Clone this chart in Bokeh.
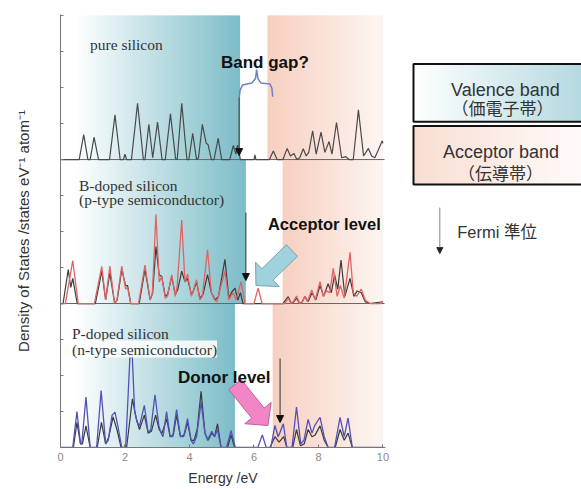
import numpy as np
from bokeh.plotting import figure
from bokeh.models import Range1d, FixedTicker, Arrow, NormalHead, Label
from bokeh.layouts import row
from bokeh.embed import file_html
from bokeh.resources import INLINE

# ---------------- data (energy eV, DOS in tick units) ----------------
pure_si = [(0.0, 0), (0.58, 0), (0.72, 0.69), (0.85, 0), (0.92, 0), (1.04, 0.62), (1.18, 0),
           (1.52, 0), (1.69, 1.24), (1.85, 0), (1.95, 0), (2.0, 0.15), (2.05, 0), (2.2, 0),
           (2.39, 1.56), (2.57, 0), (2.62, 0), (2.74, 0.98), (2.86, 0.05), (3.01, 1.04), (3.15, 0),
           (3.25, 0), (3.41, 1.27), (3.57, 0.02), (3.62, 0), (3.76, 1.56), (3.92, 0), (3.98, 0),
           (4.10, 0.73), (4.22, 0), (4.28, 0.05), (4.40, 0.98), (4.52, 0.45), (4.58, 0.41),
           (4.68, 0), (4.76, 0), (4.89, 0.59), (5.0, 0), (5.25, 0), (5.36, 0.39), (5.44, 0.15),
           (5.49, 0.4), (5.58, 0), (6.0, 0), (6.03, 0.13), (6.06, 0), (6.48, 0), (6.60, 0.24),
           (6.72, 0), (6.9, 0), (7.03, 0.31), (7.13, 0.1), (7.24, 0.17), (7.33, 0), (7.42, 0.05),
           (7.53, 0.30), (7.62, 0.1), (7.70, 0.2), (7.82, 0.80), (7.93, 0.15), (8.08, 0.76),
           (8.2, 0.2), (8.33, 0.5), (8.42, 0.15), (8.56, 1.03), (8.72, 0.05), (8.85, 0.08),
           (8.95, 0), (9.08, 0), (9.24, 1.38), (9.4, 0.1), (9.55, 0.31), (9.65, 0.1), (9.75, 0.05),
           (9.85, 0.25), (9.98, 0.52), (10.0, 0.45)]

b_host = [(0.0, 0), (0.08, 0), (0.24, 0.94), (0.32, 0.45), (0.38, 0.7), (0.52, 0), (1.08, 0),
          (1.28, 0.9), (1.40, 0.1), (1.53, 0.85), (1.68, 0), (1.76, 0.1), (1.90, 0.95), (2.02, 0.5),
          (2.08, 0.5), (2.18, 0), (2.44, 0), (2.62, 0.95), (2.78, 0.1), (2.86, 0.3), (2.96, 1.58),
          (3.06, 0.8), (3.14, 0.75), (3.25, 0.2), (3.32, 0.25), (3.45, 0.75), (3.56, 0.25),
          (3.64, 0.4), (3.76, 0.9), (3.86, 0.6), (3.94, 0.7), (4.06, 0.25), (4.12, 0.35),
          (4.22, 0.6), (4.32, 0.15), (4.42, 0.25), (4.56, 0.8), (4.68, 0.3), (4.8, 0.1),
          (4.9, 0.2), (5.10, 1.23), (5.22, 0.15), (5.30, 0.3), (5.41, 0.43), (5.5, 0.1),
          (5.58, 0.3), (5.66, 0), (6.9, 0), (7.06, 0.19), (7.16, 0), (7.24, 0.05), (7.32, 0.15),
          (7.42, 0), (7.5, 0.05), (7.58, 0.2), (7.68, 0.05), (7.8, 0.3), (7.92, 0.1), (8.05, 0.5),
          (8.16, 0.2), (8.3, 0.55), (8.4, 0.3), (8.5, 0.8), (8.6, 0.4), (8.70, 1.21), (8.82, 0.2),
          (8.98, 0.7), (9.1, 0.2), (9.2, 0.35), (9.33, 0.3), (9.45, 0.05), (9.6, 0), (10.0, 0.05)]

b_doped = [(0.0, 0), (0.15, 0), (0.38, 1.19), (0.55, 0), (1.05, 0), (1.28, 1.03), (1.40, 0.1),
           (1.53, 1.04), (1.68, 0), (1.75, 0.1), (1.90, 1.04), (2.02, 0.4), (2.08, 0.45), (2.18, 0),
           (2.42, 0), (2.62, 1.07), (2.78, 0.1), (2.85, 0.3), (2.96, 2.48), (3.06, 0.6), (3.14, 0.75),
           (3.25, 0.15), (3.32, 0.2), (3.45, 0.8), (3.56, 0.2), (3.62, 0.5), (3.76, 2.32),
           (3.86, 0.6), (3.94, 0.82), (4.06, 0.2), (4.10, 0.3), (4.22, 0.66), (4.32, 0.1),
           (4.40, 0.2), (4.56, 1.49), (4.68, 0.3), (4.78, 0.1), (4.85, 0.05), (4.98, 0.5),
           (5.10, 0.9), (5.22, 0.1), (5.28, 0.2), (5.36, 0.3), (5.45, 0.1), (5.60, 0.61),
           (5.72, 0), (6.0, 0), (6.13, 0.43), (6.25, 0), (6.95, 0), (7.06, 0.15), (7.15, 0),
           (7.22, 0.05), (7.32, 0.21), (7.42, 0), (7.50, 0.05), (7.58, 0.2), (7.66, 0.05),
           (7.79, 0.38), (7.9, 0.1), (8.05, 0.61), (8.15, 0.2), (8.25, 0.35), (8.35, 0.3),
           (8.46, 0.98), (8.58, 0.2), (8.68, 0.5), (8.8, 0.15), (8.98, 1.42), (9.08, 0.3),
           (9.18, 0.2), (9.33, 0.4), (9.45, 0.1), (9.6, 0), (9.92, 0), (10.0, 0.05)]

p_host = [(0.0, 0), (0.4, 0), (0.51, 0.7), (0.62, 0.1), (0.68, 0.1), (0.79, 0.6), (0.92, 0),
          (1.14, 0), (1.27, 0.7), (1.40, 0.1), (1.50, 0.3), (1.63, 0.85), (1.75, 0.5), (1.88, 0),
          (2.05, 0), (2.23, 1.35), (2.35, 0.8), (2.45, 0.5), (2.6, 0.9), (2.72, 0.4), (2.82, 0.45),
          (2.95, 0.9), (3.06, 0.5), (3.15, 0.4), (3.29, 0.8), (3.40, 0.3), (3.50, 0.35),
          (3.60, 0.9), (3.72, 0.3), (3.84, 0.35), (3.94, 0.7), (4.05, 0.2), (4.14, 0.2),
          (4.24, 0.5), (4.36, 1.56), (4.48, 0.4), (4.58, 0.2), (4.69, 0.4), (4.78, 0.3),
          (4.87, 0.66), (4.98, 0), (5.18, 0), (5.29, 0.35), (5.40, 0), (6.5, 0), (6.65, 0.3),
          (6.78, 0.15), (6.92, 0.3), (7.02, 0), (7.2, 0), (7.32, 0.5), (7.44, 0.05), (7.56, 0.1),
          (7.68, 0.5), (7.8, 0.3), (7.9, 0.35), (8.05, 0.6), (8.18, 0.2), (8.3, 0), (8.52, 0),
          (8.67, 0.5), (8.8, 0.2), (8.92, 0.4), (9.05, 0), (10.0, 0)]

p_doped = [(0.0, 0), (0.38, 0), (0.51, 1.0), (0.62, 0.1), (0.66, 0.1), (0.79, 1.40), (0.92, 0),
           (1.12, 0), (1.26, 1.58), (1.40, 0.1), (1.48, 0.2), (1.60, 0.9), (1.69, 0.98), (1.80, 0.5),
           (1.90, 0), (2.02, 0), (2.10, 1.5), (2.16, 2.65), (2.22, 2.65), (2.30, 1.0), (2.38, 0.7),
           (2.45, 0.6), (2.6, 1.17), (2.72, 0.4), (2.8, 0.5), (2.93, 1.46), (3.05, 0.6),
           (3.12, 0.4), (3.18, 0.3), (3.29, 1.0), (3.40, 0.3), (3.48, 0.3), (3.60, 1.05),
           (3.72, 0.3), (3.82, 0.3), (3.94, 0.8), (4.05, 0.2), (4.12, 0.1), (4.22, 0.3),
           (4.36, 1.26), (4.48, 0.4), (4.56, 0.2), (4.69, 0.45), (4.78, 0.3), (4.87, 0.5),
           (4.98, 0), (5.15, 0), (5.29, 0.47), (5.42, 0), (6.12, 0), (6.26, 0.35), (6.38, 0),
           (6.52, 0), (6.65, 0.61), (6.75, 0.3), (6.80, 0.4), (6.91, 0.66), (7.02, 0), (7.18, 0),
           (7.32, 1.12), (7.45, 0.1), (7.55, 0.2), (7.68, 0.78), (7.8, 0.4), (7.88, 0.6),
           (8.05, 0.84), (8.18, 0.3), (8.3, 0), (8.5, 0), (8.67, 0.84), (8.8, 0.3), (8.92, 0.82),
           (9.05, 0), (10.0, 0)]

panel_names = ["pure", "B", "P"]
valence_top = [5.57, 5.75, 5.41]        # eV, right edge of valence band shading
conduction_bottom = [6.42, 6.89, 6.58]  # eV, left edge of conduction shading
fermi_level = [5.54, 5.75, 6.81]        # eV
x_ticks = [0, 2, 4, 6, 8, 10]

PANEL_H = 4.0
bases = [8.0, 4.0, 0.0]
X_MAX = 10.0

TEAL = (88, 170, 184)
SALMON = (240, 168, 140)


def blend(rgb, a):
    return "#%02x%02x%02x" % tuple(int(round(255 - (255 - c) * a)) for c in rgb)


def ref(x, y):
    """reference-pixel position -> data coords"""
    return (x - 60.5) / 32.25, (447 - y) / 36.0


# ---------------- main figure ----------------
p = figure(width=400, height=489, x_range=Range1d(0, 10.08), y_range=Range1d(0, 12.03),
           output_backend="svg", toolbar_location=None,
           min_border_left=60, min_border_right=15, min_border_top=14, min_border_bottom=42)
p.xgrid.visible = False
p.ygrid.visible = False
p.outline_line_color = None

# background band shading
for base, vt, cb in zip(bases, valence_top, conduction_bottom):
    n = 70
    edges = np.linspace(0, vt, n + 1)
    step = edges[1] - edges[0]
    cols = []
    for e in edges[:-1]:
        a = 0.78 * np.clip((e + step / 2 - 0.45) / (vt - 0.45), 0, 1)
        cols.append(blend(TEAL, a))
    p.quad(left=edges[:-1], right=np.minimum(edges[:-1] + step * 1.6, vt), bottom=base,
           top=base + PANEL_H, fill_color=cols, line_color=None)
    edges = np.linspace(cb, X_MAX, n + 1)
    step = edges[1] - edges[0]
    cols = []
    for e in edges[:-1]:
        t = (e + step / 2 - cb) / (X_MAX - cb)
        cols.append(blend(SALMON, 0.55 - 0.44 * t))
    p.quad(left=edges[:-1], right=np.minimum(edges[:-1] + step * 1.6, X_MAX), bottom=base,
           top=base + PANEL_H, fill_color=cols, line_color=None)

# panel separators
for yb in [4.0, 8.0]:
    p.line([0, 10.05], [yb, yb], line_color="#666666", line_width=1)


def draw(curve, base, color, width=1.2):
    xs = [e for e, _ in curve]
    ys = [d + base for _, d in curve]
    p.line(xs, ys, line_color=color, line_width=width)


draw(pure_si, bases[0], "#4a4a4a")
draw(b_host, bases[1], "#3c3c3c")
draw(b_doped, bases[1], "#e06464", 1.3)
draw(p_host, bases[2], "#3a3a3a")
draw(p_doped, bases[2], "#5252b8", 1.3)

# Fermi level arrows
fermi_span = [(97, 155), (212, 280), (358, 422)]
for ef, (ya, yb) in zip(fermi_level, fermi_span):
    _, y0 = ref(0, ya)
    _, y1 = ref(0, yb)
    p.add_layout(Arrow(end=NormalHead(size=7, fill_color="#111111", line_color="#111111"),
                       x_start=ef, y_start=y0, x_end=ef, y_end=y1,
                       line_color="#333333", line_width=1))

# band-gap brace
brace_px = [(239.3, 97), (240, 90), (242.5, 84.5), (252, 82.5), (255.5, 78), (256.7, 69),
            (258, 78), (261, 82.5), (270, 83.5), (272, 88), (272.7, 96)]
bx, by = zip(*[ref(x, y) for x, y in brace_px])
p.line(list(bx), list(by), line_color="#6f7fc8", line_width=1.5)


def block_arrow(tail, tip, sw, hw, hl):
    T = np.array(tail, float)
    P = np.array(tip, float)
    d = (P - T) / np.linalg.norm(P - T)
    nrm = np.array([-d[1], d[0]])
    B = P - d * hl
    pts = [T + nrm * sw, B + nrm * sw, B + nrm * hw, P, B - nrm * hw, B - nrm * sw, T - nrm * sw]
    xs, ys = zip(*[ref(q[0], q[1]) for q in pts])
    return list(xs), list(ys)


ax, ay = block_arrow((292, 250), (256, 285), 8, 17, 16)
p.patch(ax, ay, fill_color="#9fd2dc", line_color="#7f9ea4", line_width=1)
ax, ay = block_arrow((235, 384), (268, 425), 8, 17, 16)
p.patch(ax, ay, fill_color="#f285c6", line_color="#c0609c", line_width=1)

SERIF = "Liberation Serif"
SANS = "Liberation Sans"


def lab(px, py, text, font, size, style="normal", color="#333333", align="left", bg=None):
    x, y = ref(px, py)
    kw = {}
    if bg:
        kw = dict(background_fill_color=bg, background_fill_alpha=0.85)
    p.add_layout(Label(x=x, y=y, text=text, text_font=font, text_font_size=size,
                       text_font_style=style, text_color=color, text_align=align,
                       text_baseline="alphabetic", **kw))


lab(90, 44, "pure silicon", SERIF, "15.5px")
lab(79, 185, "B-doped silicon", SERIF, "15.5px")
lab(79, 198.5, "(p-type semiconductor)", SERIF, "15.5px")
lab(72, 333, "P-doped silicon", SERIF, "15.5px")
lab(72, 348.5, "(n-type semiconductor)", SERIF, "15.5px", bg="white")
lab(221, 62, "Band gap?", SANS, "17px", "bold", "#111111")
lab(268, 223, "Acceptor level", SANS, "16.5px", "bold", "#111111")
lab(178, 377, "Donor level", SANS, "17px", "bold", "#111111")

# axes
p.xaxis.ticker = FixedTicker(ticks=x_ticks)
p.xaxis.major_tick_in = 3
p.xaxis.major_tick_out = 0
p.xaxis.minor_tick_line_color = None
p.xaxis.axis_line_color = "#777777"
p.xaxis.major_tick_line_color = "#777777"
p.xaxis.major_label_text_color = "#8a8a8a"
p.xaxis.major_label_text_font = SANS
p.xaxis.major_label_text_font_size = "11px"
p.xaxis.major_label_standoff = 5
p.xaxis.axis_label = "Energy /eV"
p.xaxis.axis_label_text_font = SANS
p.xaxis.axis_label_text_font_size = "14px"
p.xaxis.axis_label_text_font_style = "normal"
p.xaxis.axis_label_text_color = "#333333"
p.xaxis.axis_label_standoff = 6

y_ticks = list(range(13))
p.yaxis.ticker = FixedTicker(ticks=y_ticks)
p.yaxis.major_label_overrides = {t: "" for t in y_ticks}
p.yaxis.major_tick_in = 3
p.yaxis.major_tick_out = 0
p.yaxis.minor_tick_line_color = None
p.yaxis.axis_line_color = "#777777"
p.yaxis.major_tick_line_color = "#777777"
p.yaxis.axis_label = "Density of States /states eV\u207b\u00b9 atom\u207b\u00b9"
p.yaxis.axis_label_text_font = SANS
p.yaxis.axis_label_text_font_size = "15px"
p.yaxis.axis_label_text_font_style = "normal"
p.yaxis.axis_label_text_color = "#333333"
p.yaxis.axis_label_standoff = 29

# ---------------- legend panel ----------------
q = figure(width=181, height=489, x_range=Range1d(0, 181), y_range=Range1d(489, 0),
           output_backend="svg", toolbar_location=None,
           min_border_left=0, min_border_right=0, min_border_top=0, min_border_bottom=0)
q.axis.visible = False
q.xgrid.visible = False
q.ygrid.visible = False
q.outline_line_color = None

legend_items = ["Valence band", "Acceptor band"]
legend_sub = ["（価電子帯）", "（伝導帯）"]
boxes = [(56, 121), (126, 192)]
le = np.linspace(13, 181, 61)
st = le[1] - le[0]
vcols = [blend(TEAL, 0.45 * (e - 13) / 168) for e in le[:-1]]
acols = [blend(SALMON, 0.38 - 0.33 * (e - 13) / 168) for e in le[:-1]]
for (y0, y1), cols in zip(boxes, [vcols, acols]):
    q.quad(left=le[:-1], right=le[:-1] + st * 1.6, top=y0, bottom=y1, fill_color=cols,
           line_color=None)
    q.quad(left=[13], right=[200], top=[y0], bottom=[y1], fill_color=None,
           line_color="#111111", line_width=2)

CJK = "'Liberation Sans', 'Noto Sans CJK JP'"
for txt, sub, (cx, by1, cx2, by2) in zip(legend_items, legend_sub,
                                        [(105, 85, 102, 105), (100.5, 155, 100, 178)]):
    q.add_layout(Label(x=cx, y=by1, text=txt, text_font=SANS, text_font_size="18px",
                       text_color="#333333", text_align="center", text_baseline="alphabetic"))
    q.add_layout(Label(x=cx2, y=by2, text=sub, text_font="Noto Sans CJK JP",
                       text_font_size="17px", text_color="#333333", text_align="center",
                       text_baseline="alphabetic"))

q.add_layout(Arrow(end=NormalHead(size=6, fill_color="#222222", line_color="#222222"),
                   x_start=39.3, y_start=218, x_end=39.3, y_end=270,
                   line_color="#888888", line_width=1))
q.add_layout(Label(x=56.7, y=246, text="Fermi 準位", text_font=CJK, text_font_size="16.5px",
                   text_color="#333333", text_baseline="alphabetic"))

layout = row(p, q)
open("out.html", "w").write(file_html(layout, INLINE))
